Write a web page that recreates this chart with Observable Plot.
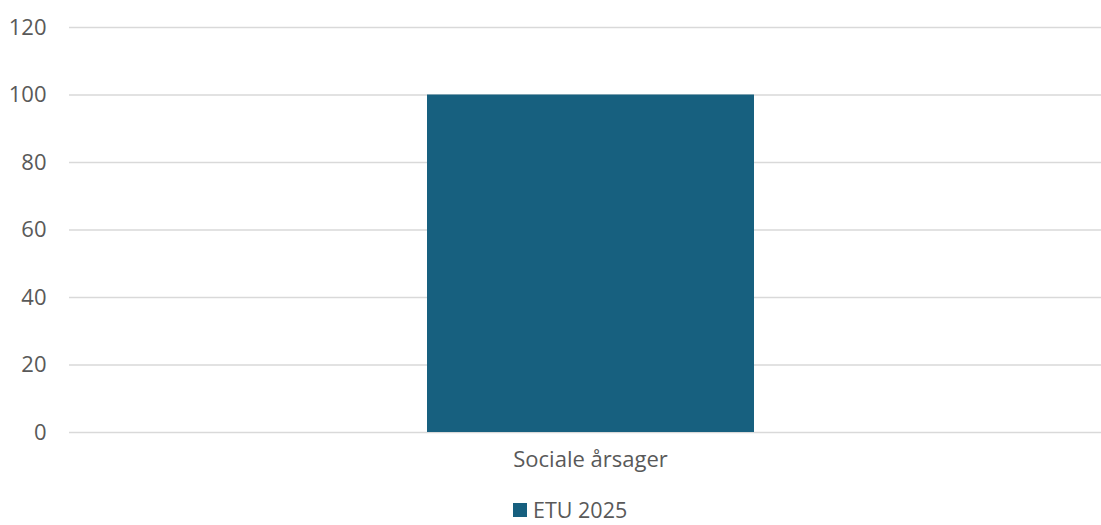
<!DOCTYPE html>
<html>
<head>
<meta charset="utf-8">
<script src="https://cdn.jsdelivr.net/npm/d3@7"></script>
<script src="https://cdn.jsdelivr.net/npm/@observablehq/plot@0.6"></script>
<style>
  html, body { margin: 0; padding: 0; background: #fff; }
  #wrap { position: relative; width: 1101px; height: 525px; font-family: "Open Sans", sans-serif; color: #595959; overflow: hidden; }
  #legend { position: absolute; left: 513px; top: 495px; height: 29px; display: flex; align-items: center; font-size: 21.5px; line-height: 29px; color: #595959; }
  #legend .sw { width: 14px; height: 14px; margin-right: 6px; }
</style>
</head>
<body>
<div id="wrap"><div id="chart"></div><div id="legend"></div></div>
<script>
const categories = ["Sociale årsager"];
const seriesName = "ETU 2025";
const values = [100];
const yTicks = [0, 20, 40, 60, 80, 100, 120];
const barColor = "#17607f";

const data = categories.map((c, i) => ({category: c, value: values[i]}));

const chart = Plot.plot({
  width: 1101,
  height: 490,
  marginTop: 27,
  marginBottom: 58,
  marginLeft: 69,
  marginRight: 0,
  style: {fontFamily: "'Open Sans', sans-serif", fontSize: "22px", color: "#595959", background: "#fff"},
  x: {domain: categories, padding: 0.5, label: null},
  y: {domain: [0, 120], label: null},
  marks: [
    Plot.ruleY(yTicks, {stroke: "#d9d9d9", strokeWidth: 1.5}),
    Plot.barY(data, {x: "category", y: "value", fill: barColor, insetLeft: 14, insetRight: 3}),
    Plot.axisY(yTicks, {tickSize: 0, tickPadding: 23, label: null, fill: "#595959", fontSize: 22}),
    Plot.axisX({tickSize: 0, tickPadding: 19, label: null, dx: 5, fill: "#595959", fontSize: 22})
  ]
});
document.getElementById("chart").appendChild(chart);

const legend = document.getElementById("legend");
const sw = document.createElement("span");
sw.className = "sw";
sw.style.background = barColor;
const lbl = document.createElement("span");
lbl.textContent = seriesName;
legend.appendChild(sw);
legend.appendChild(lbl);
</script>
</body>
</html>
